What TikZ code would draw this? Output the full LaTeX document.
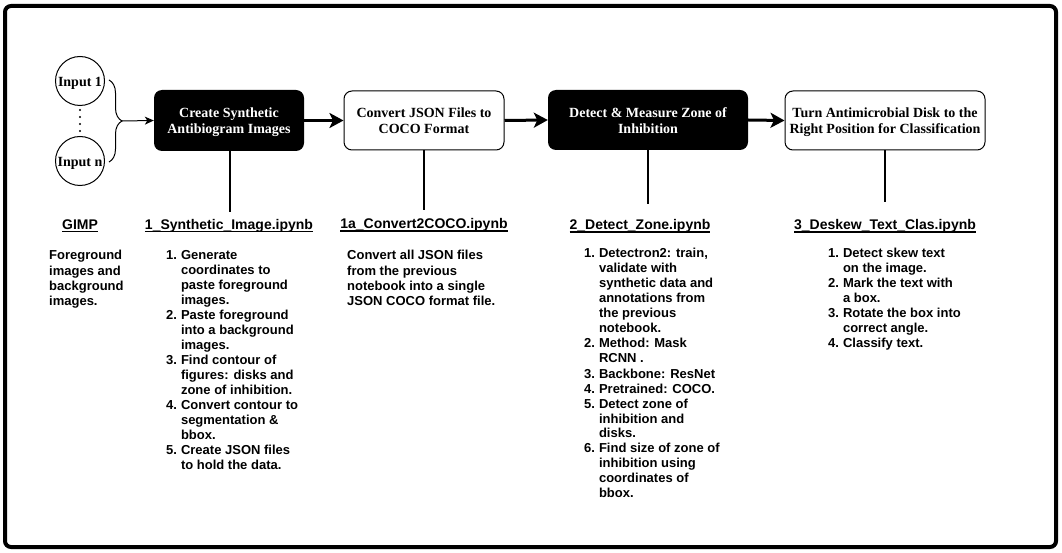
\documentclass[tikz,border=0pt]{standalone}
\usepackage{fontspec}
\setmainfont{Liberation Serif}
\setsansfont{Liberation Sans}
\usetikzlibrary{arrows.meta,decorations.pathreplacing}

% underline running through the underscores, just below the baseline
\newcommand\headul[1]{\setbox0\hbox{#1}\rlap{\rule[-2.9pt]{\wd0}{1.1pt}}\box0}
% centred two-line caption, lowered slightly inside its box
\newcommand\boxcap[2]{\raisebox{-2pt}[\height][\depth]{\begin{tabular}{@{}c@{}}#1\\#2\end{tabular}}}
\newcommand\lowered[1]{\raisebox{-2pt}[\height][\depth]{#1}}

\tikzset{
  blackbox/.style={rectangle, rounded corners=8pt, fill=black, text=white,
    font=\bfseries\fontsize{14}{16}\selectfont, inner sep=0pt},
  whitebox/.style={rectangle, rounded corners=8pt, draw=black, line width=1pt,
    fill=white, font=\bfseries\fontsize{14}{16}\selectfont, inner sep=0pt},
  inputnode/.style={circle, draw=black, line width=1pt, minimum size=49pt,
    inner sep=0pt, font=\bfseries\fontsize{14}{16}\selectfont},
  flowarrow/.style={line width=3pt, -{Stealth[length=14pt,width=15pt,inset=3.5pt]}},
  stem/.style={line width=2pt},
  heading/.style={font=\sffamily\bfseries\fontsize{14}{16}\selectfont, inner sep=0pt},
  bodytext/.style={font=\sffamily\bfseries\fontsize{13}{15}\selectfont, inner sep=0pt,
    anchor=base west},
}

\begin{document}
\begin{tikzpicture}[x=1pt,y=-1pt]
  \useasboundingbox (0,0) rectangle (1062,553);
  \draw[line width=4pt, rounded corners=6pt] (5,6) rectangle (1056,547);

  % inputs
  \node[inputnode] (in1) at (80,81) {\lowered{Input 1}};
  \node[inputnode] (inn) at (80,161) {\lowered{Input n}};
  \draw[line width=2.2pt, line cap=round, dash pattern=on 0pt off 7pt]
    ([yshift=-4pt]in1.south) -- ([yshift=4pt]inn.north);

  % process boxes
  \node[blackbox, minimum width=150pt, minimum height=61pt] (b1) at (229,120.5)
    {\boxcap{Create Synthetic}{Antibiogram Images}};
  \node[whitebox, minimum width=160pt, minimum height=59pt] (b2) at (424,120.5)
    {\boxcap{Convert JSON Files to}{COCO Format}};
  \node[blackbox, minimum width=200pt, minimum height=60pt] (b3) at (648,120)
    {\boxcap{Detect \& Measure Zone of}{Inhibition}};
  \node[whitebox, minimum width=200pt, minimum height=59pt] (b4) at (885,120.5)
    {\boxcap{Turn Antimicrobial Disk to the}{Right Position for Classification}};

  % brace gathering the inputs
  \draw[line width=1pt, decorate, decoration={brace, amplitude=13pt}]
    ([xshift=4pt,yshift=1pt]in1.east) -- ([xshift=4pt,yshift=-1pt]inn.east);
  \coordinate (bt) at (121,121);
  \draw[line width=1pt, -{Stealth[length=9pt,width=8pt,inset=2.5pt]}] (bt) -- (b1.west);

  % flow
  \draw[flowarrow] (b1.east) -- (b2.west);
  \draw[flowarrow] (b2.east) -- (b3.west);
  \draw[flowarrow] (b3.east) -- (b4.west);

  % stems down to the notebooks
  \coordinate (s1) at (230,212);
  \coordinate (s2) at (424,210);
  \coordinate (s3) at (648,204);
  \coordinate (s4) at (885,202);
  \draw[stem] (b1.south -| s1) -- (s1);
  \draw[stem] (b2.south -| s2) -- (s2);
  \draw[stem] (b3.south -| s3) -- (s3);
  \draw[stem] (b4.south -| s4) -- (s4);

  % headings
  \node[heading] (h0) at (80,226) {\headul{GIMP}};
  \node[heading] (h1) at (229,226) {\headul{1\_Synthetic\_Image.ipynb}};
  \node[heading] (h2) at (424,225) {\headul{1a\_Convert2COCO.ipynb}};
  \node[heading] (h3) at (640,226) {\headul{2\_Detect\_Zone.ipynb}};
  \node[heading] (h4) at (885,226) {\headul{3\_Deskew\_Text\_Clas.ipynb}};

  % descriptions
  \node[bodytext] (t0) at (49,260) {\begin{tabular}[t]{@{}l@{}}
    Foreground\\ images and\\ background\\ images.\end{tabular}};

  \node[bodytext] (t1) at (166,259) {\begin{tabular}[t]{@{}r@{\hspace{4pt}}l@{}}
    1. & Generate\\ & coordinates to\\ & paste foreground\\ & images.\\
    2. & Paste foreground\\ & into a background\\ & images.\\
    3. & Find contour of\\ & figures: disks and\\ & zone of inhibition.\\
    4. & Convert contour to\\ & segmentation \&\\ & bbox.\\
    5. & Create JSON files\\ & to hold the data.\end{tabular}};

  \node[bodytext] (t2) at (347,260) {\begin{tabular}[t]{@{}l@{}}
    Convert all JSON files\\ from the previous\\ notebook into a single\\
    JSON COCO format file.\end{tabular}};

  \node[bodytext] (t3) at (584,258) {\begin{tabular}[t]{@{}r@{\hspace{4pt}}l@{}}
    1. & Detectron2: train,\\ & validate with\\ & synthetic data and\\
       & annotations from\\ & the previous\\ & notebook.\\
    2. & Method: Mask\\ & RCNN .\\
    3. & Backbone: ResNet\\
    4. & Pretrained: COCO.\\
    5. & Detect zone of\\ & inhibition and\\ & disks.\\
    6. & Find size of zone of\\ & inhibition using\\ & coordinates of\\ & bbox.\end{tabular}};

  \node[bodytext] (t4) at (828,258) {\begin{tabular}[t]{@{}r@{\hspace{4pt}}l@{}}
    1. & Detect skew text\\ & on the image.\\
    2. & Mark the text with\\ & a box.\\
    3. & Rotate the box into\\ & correct angle.\\
    4. & Classify text.\end{tabular}};
\end{tikzpicture}
\end{document}
